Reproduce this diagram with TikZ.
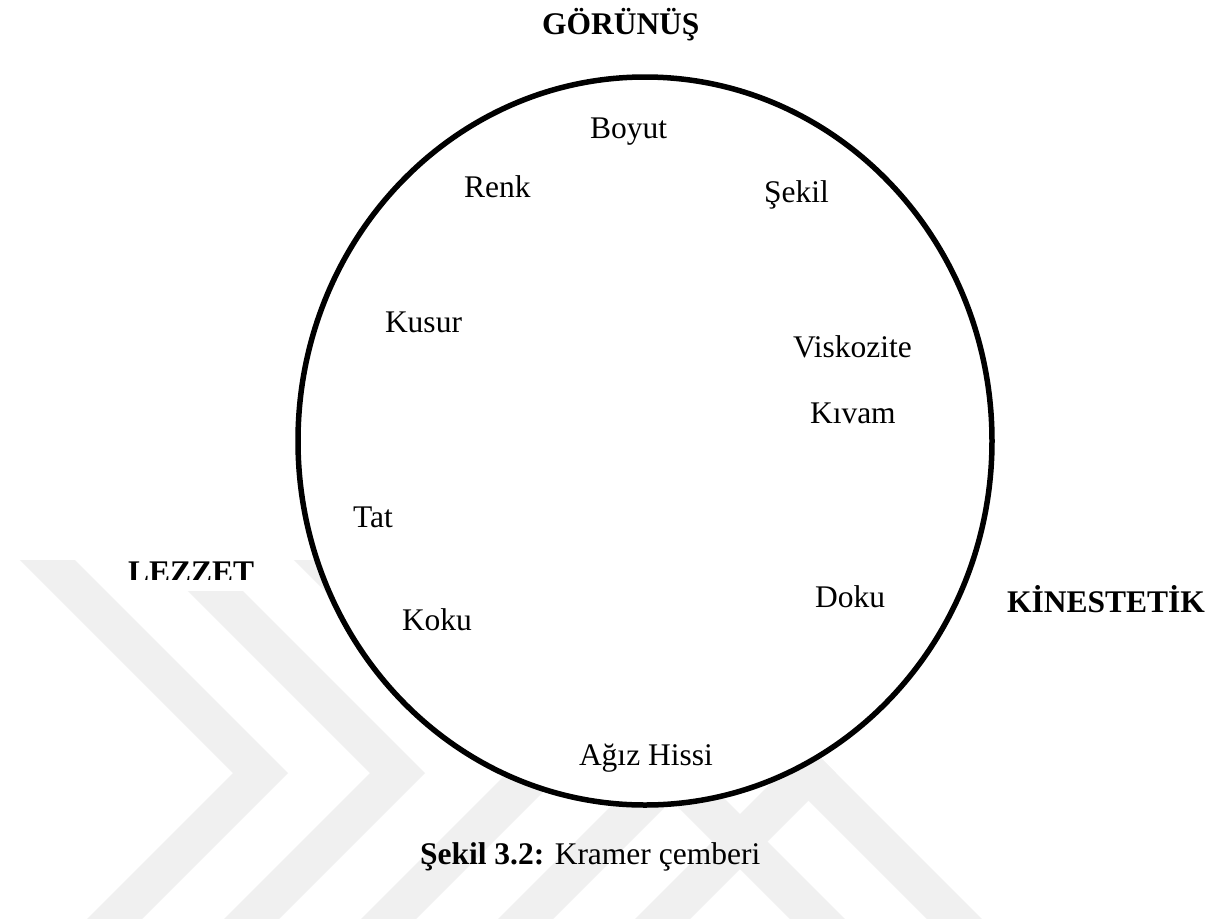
\documentclass[tikz,border=0pt]{standalone}
\usepackage{fontspec}
\setmainfont{Liberation Serif}
\begin{document}
\begin{tikzpicture}[x=1pt,y=-1pt,
  lbl/.style={inner sep=0pt,outer sep=0pt,anchor=base west,font=\fontsize{31.5}{36}\selectfont},
  hdr/.style={lbl,font=\fontsize{31.5}{36}\selectfont\bfseries},
  wm/.style={fill=black!6},
  ring/.style={draw=black,line width=5.5pt,fill=white}]
\useasboundingbox[fill=white] (0,0) rectangle (1227,922);
% watermark
\begin{scope}
  \clip (0,560) rectangle (1227,918);
  \foreach \k in {0,...,4}{
    \fill[wm] ({137*\k},540) -- ({55+137*\k},540) -- ({288+137*\k},773)
      -- ({121+137*\k},940) -- ({66+137*\k},940) -- ({233+137*\k},773) -- cycle;
  }
  \foreach \k in {3,4}{
    \fill[wm] ({137*\k},540) -- ({55+137*\k},540) -- ({455+137*\k},940)
      -- ({400+137*\k},940) -- cycle;
  }
\end{scope}
% white patch under LEZZET
\fill[white] (127,540) rectangle (253,591);
% the circle
\draw[ring] (645,441) ellipse [x radius=347pt, y radius=364pt];
% headings
\node[hdr] (gor) at (542,34) {GÖRÜNÜŞ};
\node[hdr] (kin) at (1007,612) {KİNESTETİK};
\begin{scope}
  \clip (0,540) rectangle (400,579);
  \node[hdr] (lez) at (128,582) {LEZZET};
\end{scope}
% attributes
\node[lbl] (boyut) at (590,138) {Boyut};
\node[lbl] (renk) at (464,197) {Renk};
\node[lbl] (sekil) at (764,202) {Şekil};
\node[lbl] (kusur) at (385,332) {Kusur};
\node[lbl] (visk) at (793,357) {Viskozite};
\node[lbl] (kivam) at (810,423) {Kıvam};
\node[lbl] (tat) at (353,527) {Tat};
\node[lbl] (koku) at (402,630) {Koku};
\node[lbl] (doku) at (815,607) {Doku};
\node[lbl] (agiz) at (579,765) {Ağız Hissi};
% caption
\node[lbl] (cap) at (420,864) {\textbf{Şekil 3.2:} Kramer çemberi};
\end{tikzpicture}
\end{document}
